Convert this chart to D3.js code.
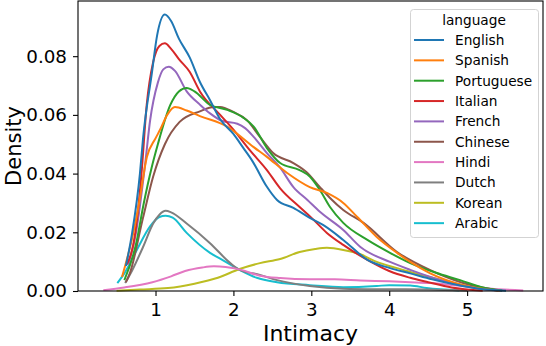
<!doctype html>
<html>
<head>
<meta charset="utf-8">
<script src="https://d3js.org/d3.v7.min.js"></script>
<style>
body { margin: 0; background: #fff; }
svg { display: block; font-family: 'DejaVu Sans', sans-serif; }
</style>
</head>
<body>
<div id="chart"></div>
<script>
// languages in legend order, with the tab10 colours
var languages = ["English", "Spanish", "Portuguese", "Italian", "French", "Chinese", "Hindi", "Dutch", "Korean", "Arabic"];
var colors = ["#1f77b4", "#ff7f0e", "#2ca02c", "#d62728", "#9467bd", "#8c564b", "#e377c2", "#7f7f7f", "#bcbd22", "#17becf"];

// density curves, [intimacy, density]
var english = [[0.62,0.0085],[0.70,0.0198],[0.80,0.040],[0.84,0.052],[0.955,0.0746],[1.02,0.087],[1.12,0.0942],[1.2,0.092],[1.3,0.086],[1.44,0.0795],[1.57,0.0712],[1.70,0.065],[1.83,0.0585],[2.0,0.0535],[2.12,0.049],[2.25,0.044],[2.43,0.0355],[2.56,0.031],[2.77,0.0283],[2.98,0.0249],[3.15,0.0225],[3.41,0.0174],[3.72,0.0106],[4.01,0.0078],[4.27,0.006],[4.55,0.004],[4.85,0.0022],[5.15,0.0008],[5.5,0.0001]];
var spanish = [[0.57,0.0048],[0.7,0.018],[0.78,0.0286],[0.89,0.0457],[1.0,0.052],[1.06,0.055],[1.15,0.060],[1.25,0.0627],[1.4,0.0615],[1.57,0.0596],[1.92,0.056],[2.26,0.049],[2.43,0.0457],[2.69,0.0402],[2.98,0.0354],[3.2,0.0334],[3.41,0.030],[3.59,0.0252],[3.84,0.0184],[4.1,0.013],[4.27,0.0099],[4.52,0.0061],[4.95,0.002],[5.42,0.0001]];
var portuguese = [[0.6,0.0037],[0.75,0.016],[0.85,0.03],[0.95,0.042],[1.03,0.05],[1.19,0.0634],[1.3,0.068],[1.4,0.0692],[1.5,0.068],[1.7,0.0634],[1.92,0.0617],[2.13,0.059],[2.26,0.056],[2.43,0.0487],[2.6,0.0436],[2.85,0.0412],[2.98,0.039],[3.11,0.0344],[3.24,0.0286],[3.41,0.0232],[3.72,0.0174],[4.01,0.013],[4.27,0.0095],[4.6,0.0062],[4.91,0.0037],[5.2,0.0012],[5.45,0.0002]];
var italian = [[0.63,0.009],[0.74,0.0198],[0.82,0.040],[0.887,0.0634],[0.97,0.078],[1.05,0.0835],[1.12,0.0844],[1.2,0.0825],[1.3,0.079],[1.44,0.0746],[1.57,0.068],[1.83,0.06],[2.0,0.055],[2.21,0.048],[2.43,0.0412],[2.6,0.035],[2.85,0.0286],[3.0,0.025],[3.2,0.0198],[3.41,0.0157],[3.72,0.0106],[4.0,0.0068],[4.27,0.0045],[4.5,0.003],[4.8,0.0012],[5.2,0.0001]];
var french = [[0.65,0.009],[0.75,0.02],[0.87,0.044],[0.93,0.058],[1.03,0.071],[1.1,0.0755],[1.17,0.0764],[1.25,0.075],[1.4,0.068],[1.57,0.0635],[1.7,0.0605],[1.85,0.058],[2.05,0.057],[2.15,0.0555],[2.26,0.0525],[2.43,0.047],[2.6,0.042],[2.77,0.0354],[2.95,0.031],[3.11,0.027],[3.41,0.0208],[3.63,0.015],[4.01,0.0099],[4.27,0.0072],[4.6,0.0042],[4.9,0.002],[5.2,0.0006],[5.45,0.0001]];
var chinese = [[0.62,0.003],[0.67,0.006],[0.84,0.025],[0.97,0.039],[1.12,0.05],[1.31,0.0576],[1.57,0.0612],[1.75,0.0627],[1.83,0.0627],[2.0,0.061],[2.17,0.0583],[2.34,0.0525],[2.51,0.047],[2.77,0.0436],[2.94,0.0405],[3.11,0.0354],[3.24,0.0317],[3.41,0.0276],[3.67,0.0232],[4.1,0.0133],[4.52,0.0072],[4.95,0.0027],[5.4,0.0002]];
var hindi = [[0.33,0.0003],[0.6,0.0012],[0.96,0.003],[1.2,0.005],[1.38,0.0068],[1.6,0.008],[1.75,0.0084],[1.9,0.0082],[2.1,0.0072],[2.34,0.0052],[2.6,0.0044],[2.98,0.004],[3.3,0.004],[3.63,0.0036],[4.0,0.0033],[4.27,0.003],[4.52,0.0027],[5.04,0.0014],[5.4,0.0006],[5.72,0.0002]];
var dutch = [[0.61,0.0027],[0.7,0.007],[0.84,0.015],[0.97,0.023],[1.05,0.026],[1.13,0.0273],[1.2,0.0268],[1.4,0.023],[1.7,0.0163],[1.96,0.0095],[2.08,0.0072],[2.34,0.0055],[2.56,0.0037],[2.98,0.0017],[3.41,0.0008],[4.0,0.0006],[4.5,0.0005],[5.0,0.0001]];
var korean = [[0.5,0.0001],[0.8,0.0005],[1.16,0.001],[1.5,0.0025],[1.8,0.0045],[2.08,0.0075],[2.34,0.0095],[2.6,0.0109],[2.85,0.0133],[3.05,0.0143],[3.2,0.0147],[3.41,0.014],[3.63,0.0125],[3.84,0.0099],[4.1,0.0078],[4.27,0.0065],[4.52,0.0048],[4.95,0.002],[5.4,0.0001]];
var arabic = [[0.51,0.0027],[0.6,0.006],[0.76,0.014],[0.93,0.022],[1.05,0.0252],[1.13,0.0256],[1.22,0.025],[1.4,0.0198],[1.7,0.013],[1.83,0.011],[2.08,0.0072],[2.3,0.0045],[2.56,0.003],[2.98,0.002],[3.41,0.0013],[3.84,0.0017],[4.0,0.002],[4.27,0.0019],[4.48,0.001],[4.9,0.0002]];

var curves = [english, spanish, portuguese, italian, french, chinese, hindi, dutch, korean, arabic];

var xTicks = [1, 2, 3, 4, 5];
var yTicks = [0, 0.02, 0.04, 0.06, 0.08];

var width = 546, height = 346;
var margin = {left: 78, right: 3, top: 1, bottom: 55};

var x = d3.scaleLinear().domain([0.005, 5.974]).range([margin.left, width - margin.right]);
var y = d3.scaleLinear().domain([0, 0.0988]).range([height - margin.bottom, margin.top]);

var svg = d3.select("#chart").append("svg")
  .attr("width", width)
  .attr("height", height);

var line = d3.line()
  .x(function(d){ return x(d[0]); })
  .y(function(d){ return y(d[1]); })
  .curve(d3.curveMonotoneX);

// draw last series first so English ends up on top like seaborn
svg.append("g").selectAll("path")
  .data(curves.map(function(c, i){ return {pts: c, i: i}; }).reverse())
  .enter().append("path")
  .attr("d", function(d){ return line(d.pts); })
  .attr("fill", "none")
  .attr("stroke", function(d){ return colors[d.i]; })
  .attr("stroke-width", 2);

// axes
var xAxis = svg.append("g")
  .attr("transform", "translate(0," + (height - margin.bottom) + ")")
  .call(d3.axisBottom(x).tickValues(xTicks).tickFormat(d3.format("d")).tickSizeOuter(0).tickSize(5));
var yAxis = svg.append("g")
  .attr("transform", "translate(" + margin.left + ",0)")
  .call(d3.axisLeft(y).tickValues(yTicks).tickFormat(d3.format(".2f")).tickSizeOuter(0).tickSize(5));

[xAxis, yAxis].forEach(function(a){
  a.select(".domain").remove();
  a.selectAll("line").attr("stroke", "#000").attr("stroke-width", 1.1);
  a.selectAll("text").attr("fill", "#000").style("font-size", "18.3px").style("font-family", "'DejaVu Sans'");
});
xAxis.selectAll("text").attr("dy", null).attr("y", 25);
yAxis.selectAll("text").attr("x", -11);

// frame
svg.append("rect")
  .attr("x", margin.left).attr("y", margin.top)
  .attr("width", width - margin.right - margin.left)
  .attr("height", height - margin.bottom - margin.top)
  .attr("fill", "none").attr("stroke", "#000").attr("stroke-width", 1.1);

svg.append("text")
  .attr("x", (margin.left + width - margin.right) / 2)
  .attr("y", 341)
  .attr("text-anchor", "middle")
  .style("font-size", "22px")
  .text("Intimacy");

svg.append("text")
  .attr("transform", "translate(20.5," + ((margin.top + height - margin.bottom) / 2) + ") rotate(-90)")
  .attr("text-anchor", "middle")
  .style("font-size", "21px")
  .text("Density");

// legend
var lg = svg.append("g");
lg.append("rect")
  .attr("x", 410.5).attr("y", 9.5).attr("width", 128).attr("height", 228)
  .attr("rx", 3).attr("fill", "#fff").attr("fill-opacity", 0.8)
  .attr("stroke", "#d3d3d3").attr("stroke-width", 1);
lg.append("text")
  .attr("x", 474).attr("y", 25)
  .attr("text-anchor", "middle")
  .style("font-size", "13.7px")
  .text("language");

var items = lg.selectAll(".item")
  .data(languages)
  .enter().append("g")
  .attr("class", "item")
  .attr("transform", function(d, i){ return "translate(0," + (40 + i * 20.35) + ")"; });
items.append("line")
  .attr("x1", 414).attr("x2", 444)
  .attr("stroke", function(d, i){ return colors[i]; })
  .attr("stroke-width", 2);
items.append("text")
  .attr("x", 455).attr("y", 5)
  .style("font-size", "13.7px")
  .text(function(d){ return d; });
</script>
</body>
</html>
